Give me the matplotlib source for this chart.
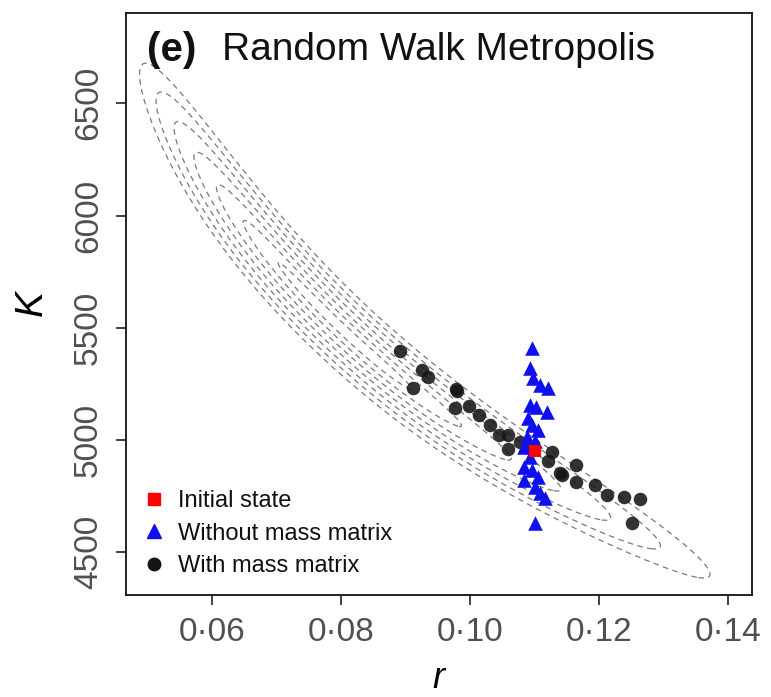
import numpy as np
import matplotlib
matplotlib.use("Agg")
import matplotlib.pyplot as plt
from matplotlib.lines import Line2D

plt.rcParams['font.family'] = ['Liberation Sans', 'DejaVu Sans']
plt.rcParams['lines.dashed_pattern'] = [4.5, 3.5]

# ---------------- data ----------------
init_r = [0.1101]
init_K = [4951]

without_r = [0.1096, 0.1093, 0.1098, 0.1109, 0.1121, 0.1093, 0.1103, 0.1119,
             0.1090, 0.1096, 0.1106, 0.1088, 0.1100, 0.1083, 0.1093, 0.1083,
             0.1096, 0.1106, 0.1083, 0.1101, 0.1109, 0.1117, 0.1101]
without_K = [5408, 5319, 5275, 5245, 5230, 5156, 5148, 5126,
             5100, 5067, 5045, 5015, 4995, 4970, 4926, 4881,
             4866, 4837, 4822, 4792, 4763, 4740, 4629]

with_r = [0.0891, 0.0925, 0.0935, 0.0912, 0.0979, 0.0980, 0.0977, 0.0999,
          0.1014, 0.1031, 0.1045, 0.1059, 0.1059, 0.1078, 0.1090, 0.1127,
          0.1121, 0.1140, 0.1142, 0.1165, 0.1165, 0.1194, 0.1212, 0.1238,
          0.1264, 0.1251]
with_K = [5398, 5312, 5279, 5230, 5226, 5220, 5141, 5151,
          5111, 5067, 5022, 5022, 4960, 4993, 4975, 4948,
          4905, 4852, 4845, 4889, 4814, 4800, 4755, 4748,
          4736, 4629]

xticks = [0.06, 0.08, 0.10, 0.12, 0.14]
xtick_labels = ['0·06', '0·08', '0·10', '0·12', '0·14']
yticks = [4500, 5000, 5500, 6000, 6500]
ytick_labels = ['4500', '5000', '5500', '6000', '6500']

legend_labels = ['Initial state', 'Without mass matrix', 'With mass matrix']

# posterior band (centre line of the dashed contours)
band_r = [0.0488, 0.0581, 0.0690, 0.0783, 0.0964, 0.1166, 0.1372]
band_K = [6620, 6240, 5838, 5535, 5103, 4752, 4399]
band_mode_r = 0.0833
band_halfwidth_px = 34
n_levels = 7

# ---------------- figure ----------------
W, H, DPI = 7.71, 6.97, 100
fig = plt.figure(figsize=(W, H), dpi=DPI)
pos = [126 / 771, 1 - 595 / 697, 626 / 771, 582 / 697]
ax = fig.add_axes(pos)
xlim = (0.0467, 0.1437)
ylim = (4310, 6902)
ax.set_xlim(xlim)
ax.set_ylim(ylim)

ax_w = W * DPI * pos[2]
ax_h = H * DPI * pos[3]
px_r = ax_w / (xlim[1] - xlim[0])
px_K = ax_h / (ylim[1] - ylim[0])

coef = np.polyfit(np.array(band_r) - 0.09, band_K, 3)
ridge = np.poly1d(coef)
dridge = ridge.deriv()

R, KK = np.meshgrid(np.linspace(0.046, 0.144, 700), np.linspace(4300, 6900, 700))
u = R - 0.09
slope_px = dridge(u) * px_K / px_r
wK = band_halfwidth_px / px_K * np.sqrt(1 + slope_px ** 2)
d = (KK - ridge(u)) / wK
r_lo, r_hi = band_r[0], band_r[-1]
h = np.where(R >= band_mode_r,
             (R - band_mode_r) / (r_hi - band_mode_r),
             np.clip((band_mode_r - R) / (band_mode_r - r_lo), 0, None) ** 2)
F = np.sqrt(d ** 2 + h ** 2)
ax.contour(R, KK, F, levels=np.arange(1, n_levels + 1) / n_levels,
           colors='#7a7a7a', linewidths=0.9, linestyles='dashed', zorder=1)

ax.scatter(with_r, with_K, s=95, marker='o', color='#151515', alpha=0.88,
           linewidths=0, zorder=3)
ax.scatter(without_r, without_K, s=110, marker='^', color='#1010ee',
           linewidths=0, zorder=4)
ax.scatter(init_r, init_K, s=80, marker='s', color='#ff0000',
           linewidths=0, zorder=5)

# axes styling
for sp in ax.spines.values():
    sp.set_linewidth(1.3)
    sp.set_color('#111111')
ax.set_xticks(xticks)
ax.set_xticklabels(xtick_labels)
ax.set_yticks(yticks)
ax.set_yticklabels(ytick_labels, rotation=90, va='center')
ax.tick_params(axis='both', length=7, width=1.2, color='#222222',
               labelsize=24, labelcolor='#505050')
ax.tick_params(axis='x', pad=9)
ax.tick_params(axis='y', pad=9)

# title inside the panel
ax.text(0.034, 0.937, '(e)', transform=ax.transAxes, fontsize=29,
        fontweight='bold', va='center', ha='left', color='#111111')
ax.text(0.153, 0.937, 'Random Walk Metropolis', transform=ax.transAxes,
        fontsize=28, va='center', ha='left', color='#111111')

# axis labels
fig.text(32 / 771, 1 - 303 / 697, 'K', rotation=90, fontsize=28,
         style='italic', ha='center', va='center')
fig.text(438 / 771, 1 - 688 / 697, 'r', fontsize=26, style='italic',
         ha='center', va='baseline')

# legend
handles = [
    Line2D([], [], marker='s', color='#ff0000', ls='none', ms=8),
    Line2D([], [], marker='^', color='#1010ee', ls='none', ms=10),
    Line2D([], [], marker='o', color='#151515', ls='none', ms=9),
]
ax.legend(handles, legend_labels, loc='lower left', frameon=False,
          fontsize=17, handlelength=0.9, handletextpad=0.55,
          labelspacing=0.45, borderaxespad=0.2, borderpad=0.55,
          labelcolor='#111111')

fig.savefig('out.png', dpi=DPI)
